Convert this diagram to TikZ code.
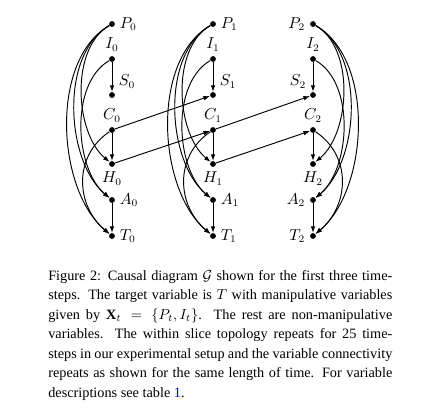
\documentclass[tikz,border=0pt]{standalone}
\usepackage{fontspec}
\setmainfont{Liberation Serif}
\usetikzlibrary{arrows.meta}
\begin{document}
\begin{tikzpicture}[x=0.69pt,y=-0.69pt,
  dot/.style={circle,fill,inner sep=0pt,minimum size=4pt},
  every label/.style={inner sep=3pt,font=\fontsize{10.5}{12}\selectfont},
  arr/.style={-{Latex[length=4.5pt,width=3.2pt]},line width=0.65pt},
  bl/.style={out=210,in=140,looseness=0.85},
  br/.style={out=-30,in=40,looseness=0.85},
  blc/.style={out=214,in=140,looseness=1.1},
  brc/.style={out=-34,in=40,looseness=1.1}]
\useasboundingbox (0,0) rectangle (434,414);

\foreach \t/\x in {0/112,1/213}{
  \node[dot,label=right:$P_{\t}$] (P\t) at (\x,24) {};
  \node[dot,label=above:$I_{\t}$] (I\t) at (\x,59) {};
  \node[dot,label=above right:$S_{\t}$] (S\t) at (\x,95) {};
  \node[dot,label=above:$C_{\t}$] (C\t) at (\x,130) {};
  \node[dot,label=below:$H_{\t}$] (H\t) at (\x,164) {};
  \node[dot,label=right:$A_{\t}$] (A\t) at (\x,200) {};
  \node[dot,label=right:$T_{\t}$] (T\t) at (\x,236) {};
  \draw[arr] (I\t) -- (S\t);
  \draw[arr] (C\t) -- (H\t);
  \draw[arr] (A\t) -- (T\t);
  \draw[arr] (P\t) to[bl] (H\t);
  \draw[arr] (P\t) to[bl] (A\t);
  \draw[arr] (P\t) to[bl] (T\t);
  \draw[arr] (I\t) to[bl] (A\t);
  \draw[arr] (C\t) to[blc] (T\t);
}

\node[dot,label=left:$P_2$] (P2) at (313,24) {};
\node[dot,label=above:$I_2$] (I2) at (313,59) {};
\node[dot,label=above left:$S_2$] (S2) at (313,95) {};
\node[dot,label=above:$C_2$] (C2) at (313,130) {};
\node[dot,label=below:$H_2$] (H2) at (313,164) {};
\node[dot,label=left:$A_2$] (A2) at (313,200) {};
\node[dot,label=left:$T_2$] (T2) at (313,236) {};
\draw[arr] (I2) -- (S2);
\draw[arr] (C2) -- (H2);
\draw[arr] (A2) -- (T2);
\draw[arr] (P2) to[br] (H2);
\draw[arr] (P2) to[br] (A2);
\draw[arr] (P2) to[br] (T2);
\draw[arr] (I2) to[br] (A2);
\draw[arr] (C2) to[brc] (T2);

\draw[arr] (C0) -- (S1);
\draw[arr] (H0) -- (C1);
\draw[arr] (C1) -- (S2);
\draw[arr] (H1) -- (C2);

\node[anchor=north west,inner sep=0pt,text width=237.4pt,align=justify,
  font=\fontsize{9.85}{13.45}\selectfont] (caption) at (48,270)
  {Figure 2: Causal diagram $\mathcal{G}$ shown for the first three time-\linebreak
   steps. The target variable is $T$ with manipulative variables\linebreak
   given by $\mathbf{X}_t = \{P_t, I_t\}$. The rest are non-manipulative\linebreak
   variables. The within slice topology repeats for 25 time-\linebreak
   steps in our experimental setup and the variable connectivity\linebreak
   repeats as shown for the same length of time. For variable\linebreak
   descriptions see table \textcolor{blue}{1}.};
\end{tikzpicture}
\end{document}
